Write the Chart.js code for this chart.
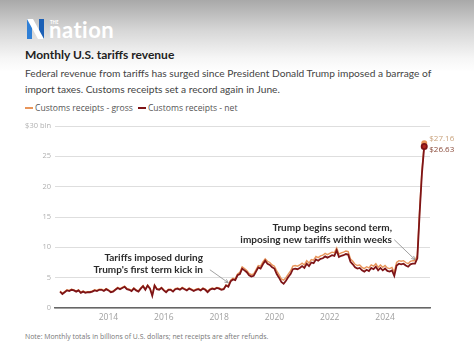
<!DOCTYPE html>
<html>
<head>
<meta charset="utf-8">
<script src="https://cdn.jsdelivr.net/npm/chart.js@4"></script>
<style>
  html,body{margin:0;padding:0;}
  body{width:474px;height:352px;position:relative;overflow:hidden;background:#fff;font-family:"Open Sans",sans-serif;}
  #bg{position:absolute;left:0;top:0;width:474px;height:80px;background:linear-gradient(#a9a9a9 0px,#d6d6d6 30px,#f6f6f6 58px,#fff 72px);}
  #logo{position:absolute;left:26px;top:16px;height:26px;}
  #title{position:absolute;left:25px;top:47px;font-family:Lato,sans-serif;font-size:12px;font-weight:700;color:#222;white-space:nowrap;}
  #sub{position:absolute;left:25px;top:66px;font-family:Lato,sans-serif;font-size:10.2px;line-height:15.5px;color:#444;white-space:nowrap;}
  #legend{position:absolute;left:25px;top:102px;font-size:8.6px;color:#555;white-space:nowrap;}
  #legend span.item{margin-right:5px;}
  #legend span.sw{display:inline-block;width:8px;height:1.6px;vertical-align:middle;margin-right:2px;position:relative;top:-1px;}
  #note{position:absolute;left:25px;top:332px;font-size:6.9px;color:#777;white-space:nowrap;}
  canvas{position:absolute;left:0;top:0;}
</style>
</head>
<body>
<div id="bg"></div>
<svg id="logo" width="110" height="26" viewBox="0 0 110 26">
  <polygon points="1,3 6,3 6,23 1,23" fill="#2f7fd6"/>
  <polygon points="13,3 18,3 18,23 13,23" fill="#1b5fb5"/>
  <polygon points="1,3 7,3 18,23 12,23" fill="#ffffff"/>
  <text x="24" y="8" font-family="Open Sans" font-size="4.5" font-weight="700" fill="#fff">THE</text>
  <text x="23" y="22" font-family="Lato, Open Sans" font-size="22" font-weight="700" fill="#fff" letter-spacing="0.5">nation</text>
</svg>
<div id="title">Monthly U.S. tariffs revenue</div>
<div id="sub">Federal revenue from tariffs has surged since President Donald Trump imposed a barrage of<br>import taxes. Customs receipts set a record again in June.</div>
<div id="legend"></div>
<div id="note">Note: Monthly totals in billions of U.S. dollars; net receipts are after refunds.</div>
<canvas id="c" width="474" height="352"></canvas>
<script>
// ---- Data (monthly, Apr 2012 – Jun 2025, $ billions) ----
const startYear = 2012, startMonth = 4;
const months = [];
for (let y = startYear, m = startMonth; months.length < 159; ) {
  months.push(y + '-' + String(m).padStart(2, '0'));
  m++; if (m > 12) { m = 1; y++; }
}
const seriesNames = ['Customs receipts - gross', 'Customs receipts - net'];
const grossReceipts = [
  2.8,2.4,2.7,3.0,2.9,3.1,3.0,2.8,3.0,
  2.6,2.8,2.6,2.7,2.7,2.8,3.0,2.9,3.1,3.1,2.9,3.2,
  3.0,2.7,2.8,3.1,3.4,3.2,3.4,3.6,3.2,3.1,2.9,3.3,
  3.0,2.8,3.3,3.7,3.1,3.8,3.3,2.2,3.8,3.2,3.1,3.4,
  3.0,2.7,3.1,3.1,2.8,3.2,3.3,3.1,3.4,3.2,3.0,3.3,
  3.1,2.9,3.1,3.2,3.0,3.3,3.1,2.8,3.1,3.3,3.2,3.4,
  3.3,3.1,3.2,3.8,3.7,4.6,4.9,4.8,5.6,5.9,6.8,6.5,
  6.2,5.7,5.5,5.6,6.3,7.0,6.9,7.6,8.1,7.7,7.5,7.1,
  6.9,6.1,5.5,4.8,4.6,5.0,5.6,6.1,6.9,7.0,6.9,7.1,
  7.4,7.1,7.8,7.4,8.0,7.9,8.5,8.3,8.6,8.7,9.0,8.8,
  9.0,9.2,9.1,9.9,8.9,9.1,9.2,9.4,9.3,8.1,7.7,7.2,
  7.0,7.1,6.7,6.5,6.8,6.6,7.1,6.9,7.3,6.7,7.1,6.7,
  7.0,6.6,6.5,6.7,5.9,7.5,7.8,7.7,7.8,7.5,7.3,7.7,
  7.8,7.8,8.7,16.1,22.7,27.16
];
const netReceipts = [
  2.7,2.3,2.6,2.9,2.8,3.0,2.9,2.7,2.9,
  2.5,2.7,2.5,2.6,2.6,2.7,2.9,2.8,3.0,3.0,2.8,3.1,
  2.9,2.6,2.7,3.0,3.3,3.1,3.3,3.5,3.1,3.0,2.8,3.2,
  2.9,2.7,3.2,3.6,3.0,3.7,3.2,2.0,3.7,3.1,3.0,3.3,
  2.9,2.6,3.0,3.0,2.7,3.1,3.2,3.0,3.3,3.1,2.9,3.2,
  3.0,2.8,3.0,3.1,2.9,3.2,3.0,2.6,3.0,3.2,3.1,3.3,
  3.2,3.0,3.1,3.7,3.5,4.4,4.7,4.6,5.4,5.6,6.5,6.2,
  5.9,5.4,5.2,5.3,6.0,6.7,6.5,7.2,7.8,7.3,7.1,6.7,
  6.5,5.6,5.0,4.3,4.0,4.5,5.1,5.6,6.4,6.5,6.4,6.6,
  6.9,6.6,7.3,6.9,7.5,7.4,8.0,7.8,8.1,8.2,8.5,8.3,
  8.5,8.7,8.6,9.5,8.4,8.6,8.7,8.9,8.8,7.6,7.2,6.7,
  6.5,6.6,6.2,6.0,6.3,6.1,6.6,6.4,6.8,6.2,6.6,6.2,
  6.5,6.1,6.0,6.2,5.3,7.0,7.3,7.2,7.3,7.0,6.8,7.2,
  7.3,7.3,8.2,15.6,22.2,26.63
];
const yTicks = [0, 5, 10, 15, 20, 25, 30];
const endLabels = ['$27.16', '$26.63'];
const colors = ['#e8955a', '#7e1417'];
const annotations = [
  { lines: ['Tariffs imposed during', "Trump's first term kick in"], textAt: '2017-06', arrowFrom: '2017-09', arrowTo: '2018-05' },
  { lines: ['Trump begins second term,', 'imposing new tariffs within weeks'], textAt: '2024-04', arrowFrom: '2024-05', arrowTo: '2025-02' }
];

// legend
const lg = document.getElementById('legend');
seriesNames.forEach((n, i) => {
  const s = document.createElement('span'); s.className = 'item';
  s.innerHTML = '<span class="sw" style="background:' + colors[i] + '"></span>' + n;
  lg.appendChild(s);
});

const last = months.length - 1;
const idx = m => months.indexOf(m);
const yearTicks = months.map((m, i) => (m.endsWith('-01') && (+m.slice(0, 4)) % 2 === 0) ? i : -1).filter(i => i >= 0);

const annoPlugin = {
  id: 'anno',
  afterDatasetsDraw(chart) {
    const { ctx, scales: { x, y } } = chart;
    ctx.save();
    // end labels
    ctx.font = '8px "Open Sans"';
    ctx.textAlign = 'left'; ctx.textBaseline = 'middle';
    ctx.fillStyle = '#c9a27c';
    ctx.fillText(endLabels[0], x.getPixelForValue(last) + 5, y.getPixelForValue(grossReceipts[last]) - 4.3);
    ctx.fillStyle = '#8a4a3a';
    ctx.fillText(endLabels[1], x.getPixelForValue(last) + 5, y.getPixelForValue(netReceipts[last]) + 3.5);
    // annotations
    annotations.forEach((a, k) => {
      const tx = x.getPixelForValue(idx(a.textAt));
      const baseVal = netReceipts[idx(a.arrowTo)];
      const tipX = x.getPixelForValue(idx(a.arrowTo));
      const tipY = y.getPixelForValue(baseVal) - 4;
      const l1 = tipY - (k === 0 ? 25 : 32);
      ctx.font = 'bold 10px Lato';
      ctx.fillStyle = '#2b2b2b';
      ctx.textAlign = 'right'; ctx.textBaseline = 'middle';
      a.lines.forEach((t, j) => ctx.fillText(t, tx, l1 + j * 12));
      const fx = x.getPixelForValue(idx(a.arrowFrom));
      const fy = l1 + 12;
      ctx.strokeStyle = '#8a8a8a'; ctx.lineWidth = 0.8;
      ctx.beginPath(); ctx.moveTo(fx, fy); ctx.lineTo(tipX, tipY); ctx.stroke();
      const ang = Math.atan2(tipY - fy, tipX - fx);
      ctx.beginPath();
      ctx.moveTo(tipX - 4 * Math.cos(ang - 0.45), tipY - 4 * Math.sin(ang - 0.45));
      ctx.lineTo(tipX, tipY);
      ctx.lineTo(tipX - 4 * Math.cos(ang + 0.45), tipY - 4 * Math.sin(ang + 0.45));
      ctx.stroke();
    });
    ctx.restore();
  }
};

new Chart(document.getElementById('c'), {
  type: 'line',
  data: {
    datasets: [
      { label: seriesNames[0], order: 1, data: grossReceipts.map((v, i) => ({ x: i, y: v })), borderColor: colors[0], backgroundColor: colors[0], borderWidth: 1.4,
        pointRadius: c => c.dataIndex === last ? 2.3 : 0, tension: 0 },
      { label: seriesNames[1], order: 0, data: netReceipts.map((v, i) => ({ x: i, y: v })), borderColor: colors[1], backgroundColor: '#b3261e', borderWidth: 1.8,
        pointRadius: c => c.dataIndex === last ? 2.6 : 0, tension: 0 }
    ]
  },
  options: {
    responsive: false, animation: false,
    layout: { padding: { left: 0, right: 44, top: 126, bottom: 0 } },
    plugins: { legend: { display: false }, tooltip: { enabled: false } },
    scales: {
      x: {
        type: 'linear', min: -2.2, max: last + 2.5,
        afterBuildTicks: s => { s.ticks = yearTicks.map(v => ({ value: v })); },
        afterFit: s => { s.height = 44; },
        grid: { display: false, drawTicks: false },
        border: { display: true, color: '#666', width: 1.4 },
        ticks: { autoSkip: false, maxRotation: 0, padding: 4, color: '#a0a0a0', font: { family: 'Open Sans', size: 8.5 },
          callback: v => months[v] ? months[v].slice(0, 4) : '' }
      },
      y: {
        min: 0, max: 30,
        afterBuildTicks: s => { s.ticks = yTicks.map(v => ({ value: v })); },
        afterFit: s => { s.width = 55; },
        grid: { color: '#dedede', lineWidth: 1, drawTicks: false },
        border: { display: false },
        ticks: { padding: 4, color: '#b0b0b0', font: { family: 'Open Sans', size: 7.5 },
          callback: v => v === 30 ? '$30 bln' : String(v) }
      }
    }
  },
  plugins: [annoPlugin]
});
</script>
</body>
</html>
